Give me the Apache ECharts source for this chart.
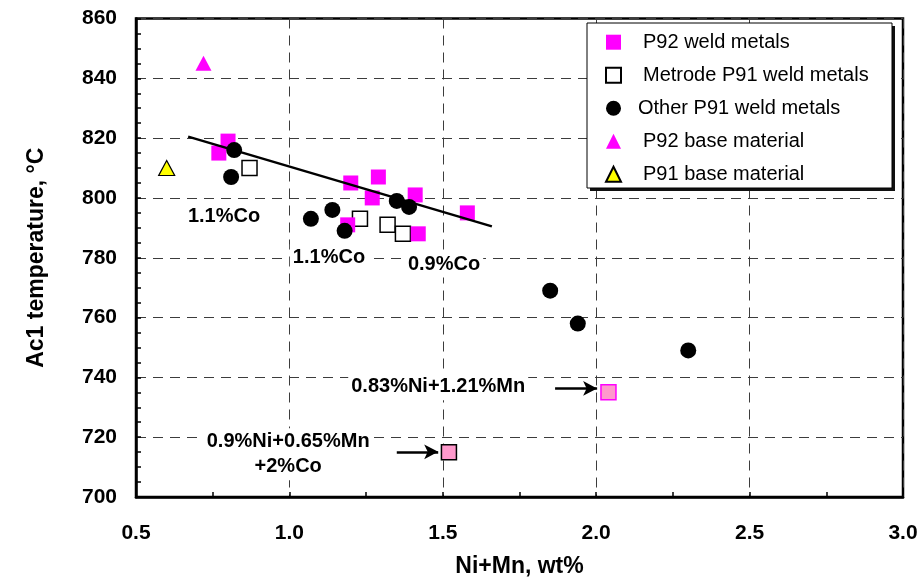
<!DOCTYPE html>
<html>
<head>
<meta charset="utf-8">
<script src="https://cdn.jsdelivr.net/npm/echarts@6/dist/echarts.min.js"></script>
<style>
  html, body { margin: 0; padding: 0; background: #fff; }
  #chart { width: 921px; height: 581px; }
</style>
</head>
<body>
<div id="chart"></div>
<script>
// Ac1 temperature against Ni+Mn content for P91/P92 weld metals and base materials
const FONT = '"Liberation Sans", Arial, sans-serif';

// x-axis ticks (wt%) and y-axis ticks (°C)
const xTicks = [0.5, 1.0, 1.5, 2.0, 2.5, 3.0];
const yTicks = [700, 720, 740, 760, 780, 800, 820, 840, 860];

// P92 weld metals
const p92WeldNiMn = [0.80, 0.77, 1.20, 1.29, 1.27, 1.41, 1.58, 1.19, 1.42];
const p92WeldAc1  = [819, 815, 805, 807, 800, 801, 795, 791, 788];

// Metrode P91 weld metals
const metrodeNiMn = [0.87, 1.23, 1.32, 1.37];
const metrodeAc1  = [810, 793, 791, 788];

// Other P91 weld metals
const otherNiMn = [0.82, 0.81, 1.07, 1.14, 1.18, 1.35, 1.39, 1.85, 1.94, 2.30];
const otherAc1  = [816, 807, 793, 796, 789, 799, 797, 769, 758, 749];

// Base materials
const p92BaseNiMn = [0.72];
const p92BaseAc1  = [845];
const p91BaseNiMn = [0.60];
const p91BaseAc1  = [810];

// Individually annotated P92 weld metals
const specialNiMn = [2.04, 1.52];
const specialAc1  = [735, 715];

// Trend line through the low Ni+Mn weld metals
const trendNiMn = [0.67, 1.66];
const trendAc1  = [820.5, 790.5];

// Annotation texts and their anchor points
const noteTexts = ['1.1%Co', '1.1%Co', '0.9%Co', '0.83%Ni+1.21%Mn', '0.9%Ni+0.65%Mn\n+2%Co'];
const noteNiMn  = [0.787, 1.129, 1.504, 1.485, 0.996];
const noteAc1   = [793.7, 780.0, 777.9, 736.9, 714.3];

// Arrows pointing at the annotated points: x start, x end, y
const arrowFromNiMn = [1.866, 1.35];
const arrowToNiMn   = [2.003, 1.485];
const arrowAc1      = [736.3, 715.1];

const zip = (xs, ys) => xs.map((x, i) => [x, ys[i]]);

const chart = echarts.init(document.getElementById('chart'), null, { renderer: 'canvas' });

const gridLine = { show: true, lineStyle: { color: '#3c3c3c', width: 1, type: [10, 7] } };

const option = {
  backgroundColor: '#ffffff',
  animation: false,
  textStyle: { fontFamily: FONT },
  grid: {
    left: 136, right: 18, top: 18.5, bottom: 84,
    containLabel: false, outerBoundsMode: 'none',
    show: true, borderColor: '#000', borderWidth: 2.5, backgroundColor: 'transparent'
  },
  xAxis: {
    type: 'value',
    min: xTicks[0], max: xTicks[xTicks.length - 1], interval: 0.5,
    name: 'Ni+Mn, wt%', nameLocation: 'middle', nameGap: 58,
    nameTextStyle: { fontFamily: FONT, fontWeight: 'bold', fontSize: 23, color: '#000' },
    axisLine: { show: true, onZero: false, lineStyle: { color: '#000', width: 2.5 } },
    axisTick: { show: true, inside: true, length: 5, lineStyle: { color: '#000', width: 1.5 } },
    minorTick: { show: true, splitNumber: 2, length: 5, lineStyle: { color: '#000', width: 1.5 } },
    axisLabel: {
      margin: 26, fontFamily: FONT, fontWeight: 'bold', fontSize: 21, color: '#000',
      formatter: v => (xTicks.indexOf(v) >= 0 ? v.toFixed(1) : '')
    },
    splitLine: gridLine
  },
  yAxis: {
    type: 'value',
    min: yTicks[0], max: yTicks[yTicks.length - 1], interval: 20,
    name: 'Ac1 temperature, °C', nameLocation: 'middle', nameGap: 88,
    nameTextStyle: { fontFamily: FONT, fontWeight: 'bold', fontSize: 23, color: '#000' },
    axisLine: { show: true, onZero: false, lineStyle: { color: '#000', width: 2.5 } },
    axisTick: { show: true, inside: true, length: 5, lineStyle: { color: '#000', width: 1.5 } },
    minorTick: { show: true, splitNumber: 4, length: 5, lineStyle: { color: '#000', width: 1.5 } },
    axisLabel: {
      margin: 19, fontFamily: FONT, fontWeight: 'bold', fontSize: 21, color: '#000',
      formatter: v => (yTicks.indexOf(v) >= 0 ? String(v) : '')
    },
    splitLine: gridLine
  },
  legend: {
    orient: 'vertical',
    left: 605, top: 31.7,
    padding: 0,
    itemWidth: 15, itemHeight: 15, itemGap: 12,
    selectedMode: false,
    z: 30,
    itemStyle: { opacity: 1 },
    textStyle: { fontFamily: FONT, fontSize: 20, lineHeight: 21, color: '#000', padding: [0, 0, 0, 17] },
    data: [
      { name: 'P92 weld metals' },
      { name: 'Metrode P91 weld metals' },
      { name: 'Other P91 weld metals', textStyle: { padding: [0, 0, 0, 12] } },
      { name: 'P92 base material' },
      { name: 'P91 base material' }
    ]
  },
  graphic: [
    // legend frame with a drop shadow
    { type: 'rect', z: 20, silent: true, shape: { x: 590, y: 26, width: 305, height: 165 },
      style: { fill: '#111' } },
    { type: 'rect', z: 21, silent: true, shape: { x: 587, y: 23, width: 305, height: 165 },
      style: { fill: '#fff', stroke: '#000', lineWidth: 1 } }
  ],
  series: [
    {
      name: 'Metrode P91 weld metals', type: 'scatter', z: 3,
      symbol: 'rect', symbolSize: 15,
      itemStyle: { color: '#ffffff', borderColor: '#000', borderWidth: 1.5, opacity: 1 },
      data: zip(metrodeNiMn, metrodeAc1)
    },
    {
      name: 'P92 weld metals', type: 'scatter', z: 4,
      symbol: 'rect', symbolSize: 15,
      itemStyle: { color: '#ff00ff', opacity: 1 },
      data: zip(p92WeldNiMn, p92WeldAc1)
    },
    {
      name: 'special', type: 'scatter', z: 4,
      symbol: 'rect', symbolSize: 15,
      data: [
        { value: [specialNiMn[0], specialAc1[0]], itemStyle: { color: '#ff99cc', borderColor: '#ff00ff', borderWidth: 1.5, opacity: 1 } },
        { value: [specialNiMn[1], specialAc1[1]], itemStyle: { color: '#ff99cc', borderColor: '#000', borderWidth: 1.5, opacity: 1 } }
      ]
    },
    {
      name: 'P92 base material', type: 'scatter', z: 4,
      symbol: 'triangle', symbolSize: [16, 15],
      itemStyle: { color: '#ff00ff', opacity: 1 },
      data: zip(p92BaseNiMn, p92BaseAc1)
    },
    {
      name: 'P91 base material', type: 'scatter', z: 4,
      symbol: 'triangle', symbolSize: [16, 15],
      itemStyle: { color: '#ffff00', borderColor: '#000', borderWidth: 1.2, opacity: 1 },
      data: zip(p91BaseNiMn, p91BaseAc1)
    },
    {
      name: 'Other P91 weld metals', type: 'scatter', z: 5,
      symbol: 'circle', symbolSize: 16,
      itemStyle: { color: '#000', opacity: 1 },
      data: zip(otherNiMn, otherAc1)
    },
    {
      name: 'trend', type: 'line', z: 6,
      showSymbol: false, symbol: 'none', silent: true,
      lineStyle: { color: '#000', width: 2.5 },
      data: zip(trendNiMn, trendAc1)
    },
    {
      name: 'notes', type: 'scatter', z: 7, silent: true,
      symbolSize: 0.1,
      itemStyle: { color: 'rgba(0,0,0,0)', opacity: 1 },
      label: {
        show: true, position: 'inside',
        fontFamily: FONT, fontWeight: 'bold', fontSize: 20, lineHeight: 25,
        color: '#000', backgroundColor: '#fff', padding: [1, 3],
        formatter: p => noteTexts[p.dataIndex]
      },
      data: zip(noteNiMn, noteAc1),
      markLine: {
        silent: true,
        symbol: ['none', 'arrow'], symbolSize: [11, 14],
        lineStyle: { color: '#000', width: 2.5, type: 'solid', opacity: 1 },
        label: { show: false },
        data: arrowAc1.map((y, i) => [
          { coord: [arrowFromNiMn[i], y] },
          { coord: [arrowToNiMn[i], y] }
        ])
      }
    }
  ]
};

chart.setOption(option);
</script>
</body>
</html>
